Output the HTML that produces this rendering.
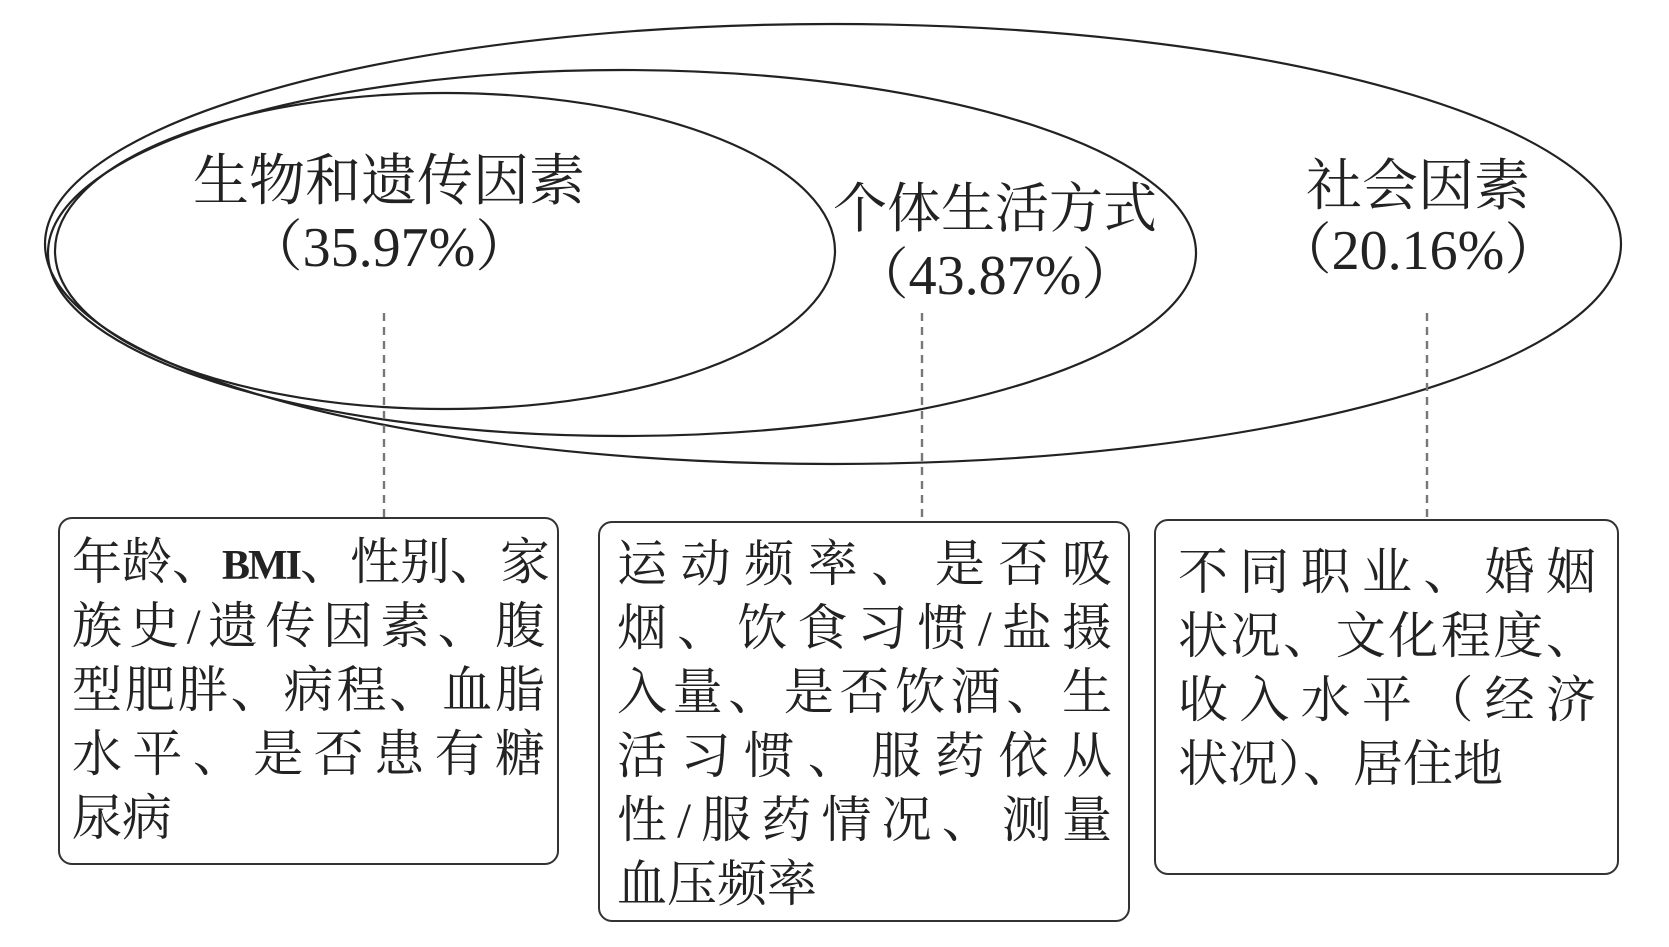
<!DOCTYPE html>
<html><head><meta charset="utf-8"><style>
body{margin:0;width:1669px;height:947px;background:#fff;position:relative;overflow:hidden;font-family:"Liberation Serif","Noto Serif CJK SC",serif;color:#222}
.t{position:absolute;white-space:nowrap;transform:translate(-50%,-50%);font-size:56px;line-height:1}
.box{position:absolute;border:2px solid #333;border-radius:14px;box-sizing:border-box}
.ln{position:absolute;font-size:50px;line-height:1;white-space:nowrap;text-align:justify;text-align-last:justify;transform:translateY(-50%)}
.ln.l{text-align-last:left}
.sm{font-size:42px;font-weight:bold;letter-spacing:-2px}
</style></head><body>
<svg width="1669" height="947" style="position:absolute;left:0;top:0">
<g fill="none" stroke="#222" stroke-width="2.2">
<ellipse cx="833" cy="244" rx="788" ry="220"/>
<ellipse cx="622" cy="253" rx="574" ry="183"/>
<ellipse cx="445" cy="251" rx="390" ry="158"/>
</g>
<g stroke="#777" stroke-width="2.4" stroke-dasharray="8,6">
<line x1="384" y1="313" x2="384" y2="517"/>
<line x1="922" y1="313" x2="922" y2="521"/>
<line x1="1427" y1="313" x2="1427" y2="519"/>
</g>
</svg>
<div class="t" style="left:389px;top:182px">生物和遗传因素</div>
<div class="t" style="left:389px;top:248px">（35.97%）</div>
<div class="t" style="left:995px;top:209px;font-size:54px">个体生活方式</div>
<div class="t" style="left:995px;top:276px">（43.87%）</div>
<div class="t" style="left:1418px;top:187px">社会因素</div>
<div class="t" style="left:1418px;top:251px">（20.16%）</div>

<div class="box" style="left:58px;top:517px;width:501px;height:348px"></div>
<div class="ln" style="left:72px;width:473px;top:562px">年龄、<span class="sm">BMI</span>、性别、家</div>
<div class="ln" style="left:72px;width:473px;top:626px">族史/遗传因素、腹</div>
<div class="ln" style="left:72px;width:473px;top:690px">型肥胖、病程、血脂</div>
<div class="ln" style="left:72px;width:473px;top:754px">水平、是否患有糖</div>
<div class="ln l" style="left:72px;width:473px;top:818px">尿病</div>

<div class="box" style="left:598px;top:521px;width:532px;height:401px"></div>
<div class="ln" style="left:617px;width:495px;top:564px">运动频率、是否吸</div>
<div class="ln" style="left:617px;width:495px;top:628px">烟、饮食习惯/盐摄</div>
<div class="ln" style="left:617px;width:495px;top:692px">入量、是否饮酒、生</div>
<div class="ln" style="left:617px;width:495px;top:756px">活习惯、服药依从</div>
<div class="ln" style="left:617px;width:495px;top:820px">性/服药情况、测量</div>
<div class="ln l" style="left:617px;width:495px;top:884px">血压频率</div>

<div class="box" style="left:1154px;top:519px;width:465px;height:356px"></div>
<div class="ln" style="left:1178px;width:418px;top:572px">不同职业、婚姻</div>
<div class="ln" style="left:1178px;width:418px;top:636px">状况、文化程度、</div>
<div class="ln" style="left:1178px;width:418px;top:700px">收入水平（经济</div>
<div class="ln l" style="left:1178px;width:418px;top:764px">状况）、居住地</div>
</body></html>
